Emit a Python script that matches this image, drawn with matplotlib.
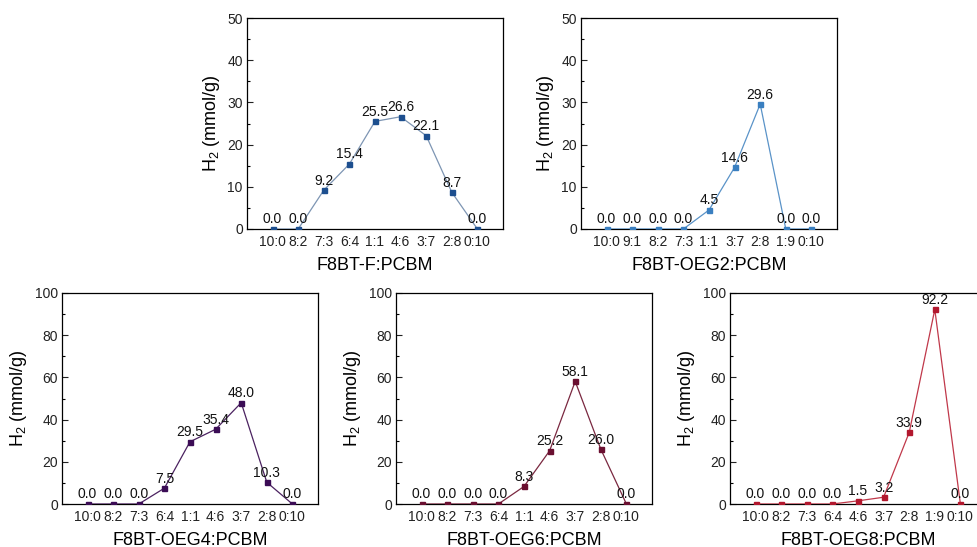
import matplotlib
matplotlib.use("Agg")
import matplotlib.pyplot as plt
from matplotlib.ticker import MultipleLocator

plt.rcParams['font.family'] = ['Liberation Sans', 'DejaVu Sans']
plt.rcParams['mathtext.fontset'] = 'custom'
plt.rcParams['mathtext.rm'] = 'Liberation Sans'
plt.rcParams['mathtext.it'] = 'Liberation Sans:italic'

# ---- data ----
cats_f = ["10:0", "8:2", "7:3", "6:4", "1:1", "4:6", "3:7", "2:8", "0:10"]
vals_f = [0.0, 0.0, 9.2, 15.4, 25.5, 26.6, 22.1, 8.7, 0.0]

cats_oeg2 = ["10:0", "9:1", "8:2", "7:3", "1:1", "3:7", "2:8", "1:9", "0:10"]
vals_oeg2 = [0.0, 0.0, 0.0, 0.0, 4.5, 14.6, 29.6, 0.0, 0.0]

cats_oeg4 = ["10:0", "8:2", "7:3", "6:4", "1:1", "4:6", "3:7", "2:8", "0:10"]
vals_oeg4 = [0.0, 0.0, 0.0, 7.5, 29.5, 35.4, 48.0, 10.3, 0.0]

cats_oeg6 = ["10:0", "8:2", "7:3", "6:4", "1:1", "4:6", "3:7", "2:8", "0:10"]
vals_oeg6 = [0.0, 0.0, 0.0, 0.0, 8.3, 25.2, 58.1, 26.0, 0.0]

cats_oeg8 = ["10:0", "8:2", "7:3", "6:4", "4:6", "3:7", "2:8", "1:9", "0:10"]
vals_oeg8 = [0.0, 0.0, 0.0, 0.0, 1.5, 3.2, 33.9, 92.2, 0.0]

xlabels = ["F8BT-F:PCBM", "F8BT-OEG2:PCBM", "F8BT-OEG4:PCBM",
           "F8BT-OEG6:PCBM", "F8BT-OEG8:PCBM"]

W, H = 977, 547
fig = plt.figure(figsize=(W / 100, H / 100), dpi=100)

def rect(l, t, r, b):
    return [l / W, 1 - b / H, (r - l) / W, (b - t) / H]

panels = [
    (rect(247, 18, 503, 229), cats_f, vals_f, xlabels[0], 50, 10, '#1d4f8f', '#7d95b3'),
    (rect(581, 18, 837, 229), cats_oeg2, vals_oeg2, xlabels[1], 50, 10, '#3a7fc0', '#5a93c8'),
    (rect(62, 293, 318, 504), cats_oeg4, vals_oeg4, xlabels[2], 100, 20, '#3b0c55', '#4b2260'),
    (rect(396, 293, 652, 504), cats_oeg6, vals_oeg6, xlabels[3], 100, 20, '#6a0f30', '#7a2840'),
    (rect(730, 293, 986, 504), cats_oeg8, vals_oeg8, xlabels[4], 100, 20, '#b2182e', '#c0384a'),
]

for pos, cats, vals, xl, ymax, ystep, mcol, lcol in panels:
    ax = fig.add_axes(pos)
    x = list(range(len(cats)))
    ax.plot(x, vals, color=lcol, lw=0.9, marker='s', ms=3.6,
            mfc=mcol, mec=mcol, zorder=3)
    for xi, v in zip(x, vals):
        ax.annotate(f"{v:.1f}", (xi, v), xytext=(0, 4), textcoords='offset points',
                    ha='center', va='baseline', fontsize=10, color='#111111',
                    annotation_clip=False)
    ax.set_xlim(-1, len(cats))
    ax.set_ylim(0, ymax)
    ax.set_xticks(x)
    ax.set_xticklabels(cats)
    ax.yaxis.set_major_locator(MultipleLocator(ystep))
    ax.yaxis.set_minor_locator(MultipleLocator(ystep / 2))
    ax.tick_params(axis='x', length=0, pad=4, labelsize=10, colors='#222222')
    ax.tick_params(axis='y', which='major', direction='in', length=4, width=0.8,
                   pad=3, labelsize=10, colors='#222222')
    ax.tick_params(axis='y', which='minor', direction='in', length=2, width=0.8)
    for s in ax.spines.values():
        s.set_linewidth(0.9)
        s.set_color('black')
    ax.set_xlabel(xl, fontsize=13, labelpad=6)
    ax.set_ylabel(r'H$_2$ (mmol/g)', fontsize=13, labelpad=4)

fig.savefig("out.png", dpi=100)
